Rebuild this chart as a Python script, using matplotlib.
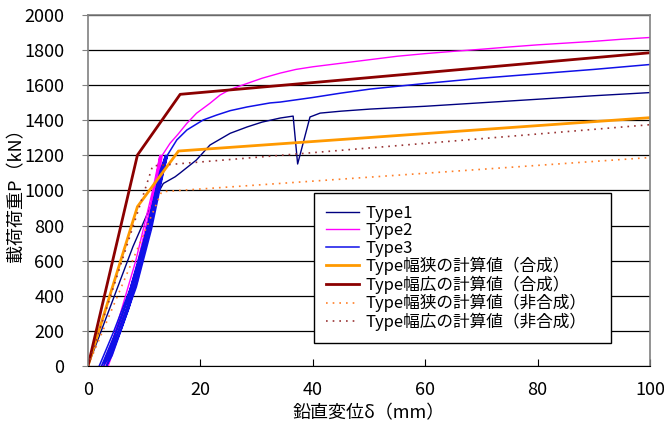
import numpy as np
import matplotlib
matplotlib.use("Agg")
import matplotlib.pyplot as plt

plt.rcParams['font.family'] = ['Noto Sans CJK JP', 'DejaVu Sans']

# ===================== DATA =====================
# Type1 (first loading from origin, then envelope with a dip near 37 mm)
t1_x = [0, 4, 8, 11, 13.4, 15.5, 16.4, 19.3, 21.7, 25.3, 28.3, 31, 34.2, 36.5,
        37.3, 39.5, 41.3, 45, 50.2, 55, 60, 70, 80, 90, 100]
t1_y = [0, 340, 680, 900, 1040, 1078, 1100, 1174, 1259, 1326, 1362, 1390, 1413, 1424,
        1151, 1419, 1441, 1452, 1464, 1472, 1480, 1500, 1520, 1540, 1558]

# Type2 (load/unload cycles, then envelope)
t2_x = [2.5, 5, 8, 10.5, 12, 12.8, 11.5, 8.5, 5.5, 3.2, 5.5, 8.5, 11, 12.3, 13,
        11.8, 8.9, 6.0, 3.6, 5.8, 8.8, 11.3, 12.5, 13.2,
        14.6, 16, 17.6, 19.3, 21.7, 23.5, 25.3, 28.3, 31, 34.2, 37, 40, 45, 50,
        55, 60, 65, 70, 75, 80, 85, 90, 95, 100]
t2_y = [0, 200, 470, 800, 1050, 1200, 1000, 600, 270, 0, 200, 480, 820, 1050, 1200,
        1000, 600, 270, 0, 200, 480, 820, 1050, 1200,
        1269, 1320, 1383, 1440, 1497, 1544, 1576, 1610, 1640, 1669, 1690, 1705, 1725, 1745,
        1765, 1780, 1793, 1805, 1818, 1830, 1840, 1850, 1862, 1872]

# Type3 (load/unload cycles, then envelope)
t3_x = [2.0, 4.5, 7.5, 10.4, 12.8, 13.8, 12.5, 9.5, 6.5, 3.5, 2.4,
        4.9, 7.9, 10.7, 13.0, 14.0, 12.7, 9.8, 6.9, 3.9, 2.8,
        5.3, 8.3, 11.0, 13.2, 14.1, 12.9, 10.1, 7.3, 4.3, 3.3,
        5.7, 8.6, 11.3, 13.4, 14.2, 15.8, 17.6, 20.5, 22.9, 25.3, 28.3, 32.4,
        34.2, 40, 45, 50.2, 60, 70, 80, 90, 100]
t3_y = [0, 190, 440, 770, 1110, 1200, 1050, 650, 330, 60, 0,
        190, 450, 780, 1100, 1200, 1040, 660, 330, 60, 0,
        190, 450, 780, 1100, 1200, 1040, 660, 330, 60, 0,
        190, 450, 780, 1100, 1205, 1288, 1345, 1402, 1430, 1455, 1476, 1499,
        1504, 1530, 1555, 1578, 1610, 1640, 1665, 1690, 1718]

# calculated values
narrow_comp_x = [0, 8.8, 16.1, 100]
narrow_comp_y = [0, 908, 1225, 1415]
wide_comp_x = [0, 8.8, 16.4, 100]
wide_comp_y = [0, 1202, 1548, 1785]
narrow_non_x = [0, 13.1, 100]
narrow_non_y = [0, 993, 1188]
wide_non_x = [0, 11.5, 100]
wide_non_y = [0, 1140, 1375]

labels = ["Type1", "Type2", "Type3",
          "Type幅狭の計算値（合成）", "Type幅広の計算値（合成）",
          "Type幅狭の計算値（非合成）", "Type幅広の計算値（非合成）"]

# ===================== PLOT =====================
fig = plt.figure(figsize=(6.64, 4.29), dpi=100)
ax = fig.add_axes([0.1325, 0.1469, 0.8465, 0.8181])

ax.plot(t1_x, t1_y, color="#000080", lw=1.0, label=labels[0])
ax.plot(t2_x, t2_y, color="#FF00FF", lw=1.0, label=labels[1])
ax.plot(t3_x, t3_y, color="#1010E8", lw=1.1, label=labels[2])
ax.plot(narrow_comp_x, narrow_comp_y, color="#FF9900", lw=2.0, label=labels[3])
ax.plot(wide_comp_x, wide_comp_y, color="#8B0000", lw=2.0, label=labels[4])
ax.plot(narrow_non_x, narrow_non_y, color="#FF7F27", lw=1.2, ls=(0, (1, 3)), label=labels[5])
ax.plot(wide_non_x, wide_non_y, color="#993333", lw=1.2, ls=(0, (1, 3)), label=labels[6])

ax.set_xlim(0, 100)
ax.set_ylim(0, 2000)
ax.set_xticks(np.arange(0, 101, 20))
ax.set_yticks(np.arange(0, 2001, 200))
ax.yaxis.grid(True, color="black", lw=0.9)
ax.set_axisbelow(True)

for s in ["left", "top", "right"]:
    ax.spines[s].set_color("#808080")
    ax.spines[s].set_linewidth(1.2)
ax.spines["bottom"].set_color("black")

ax.tick_params(axis="x", direction="in", length=5, pad=11, labelsize=13)
ax.tick_params(axis="y", direction="out", length=4, pad=13, labelsize=13, color="#808080")

ax.set_xlabel("鉛直変位δ（mm）", fontsize=13)
ax.set_ylabel("載荷荷重P（kN）", fontsize=13)
ax.xaxis.set_label_coords(0.5, -0.108)
ax.yaxis.set_label_coords(-0.112, 0.5)

leg = ax.legend(loc="lower left", bbox_to_anchor=(0.402, 0.066, 0.528, 0.39),
                mode="expand", borderaxespad=0, fontsize=12, frameon=True,
                fancybox=False, edgecolor="black", framealpha=1, handlelength=2.0,
                labelspacing=0.02, borderpad=0.7, handletextpad=0.4)
leg.get_frame().set_linewidth(1.0)

plt.savefig("out.png", dpi=100)
plt.close()
